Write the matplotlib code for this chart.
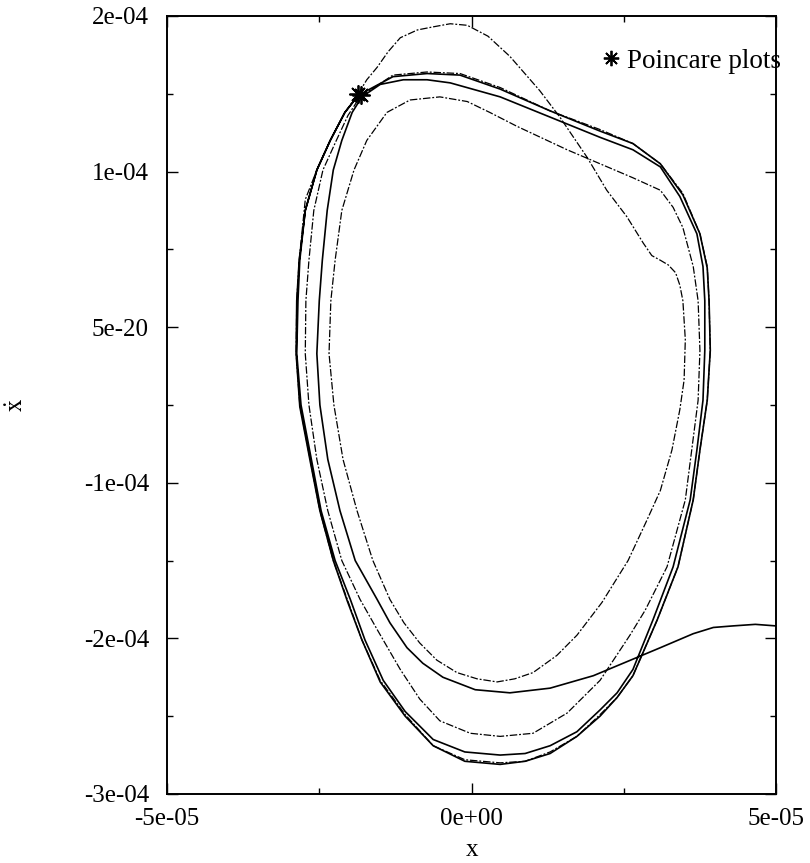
import matplotlib
matplotlib.use("Agg")
import matplotlib.pyplot as plt
import numpy as np

plt.rcParams.update({
    "font.family": "serif",
    "font.serif": ["Liberation Serif", "DejaVu Serif"],
    "mathtext.fontset": "stix",
    "font.size": 18,
})

# trajectory values: x in units of 1e-05, xdot in units of 1e-04
# solid trajectory, enters from the right edge and settles on the limit cycle
solid_x = [5.00, 4.66, 4.29, 3.97, 3.64, 3.10, 2.55, 2.00, 1.29, 0.63, 0.06, -0.47, -0.80, -1.06,
           -1.34, -1.55, -1.91, -2.16, -2.36, -2.49, -2.54, -2.50, -2.45, -2.37, -2.27, -2.13,
           -1.96, -1.80, -1.50, -1.12, -0.73, -0.35, 0.47, 1.29, 2.11, 2.65, 3.10, 3.42, 3.70,
           3.80, 3.83, 3.83, 3.80, 3.70, 3.59, 3.31, 2.98, 2.65, 2.39, 2.11, 1.73, 1.29, 0.88,
           0.47, -0.11, -0.63, -1.09, -1.45, -1.75, -1.99, -2.24, -2.47, -2.63, -2.80, -2.87,
           -2.85, -2.82, -2.73, -2.54, -2.32, -2.08, -1.86, -1.29, -0.73, -0.19, 0.47, 1.29,
           2.11, 2.65, 3.10, 3.47, 3.75, 3.87, 3.90, 3.92, 3.87, 3.75, 3.64, 3.39, 3.05, 2.65,
           2.39, 2.11, 1.73, 1.29, 0.88, 0.47, -0.11, -0.63, -1.09, -1.50, -1.80, -2.04, -2.27,
           -2.49, -2.65, -2.82, -2.88, -2.87, -2.83, -2.73, -2.54, -2.32, -2.08, -1.86]
solid_y = [-1.92, -1.91, -1.92, -1.93, -1.97, -2.06, -2.15, -2.24, -2.32, -2.35, -2.33, -2.25,
           -2.16, -2.06, -1.90, -1.75, -1.50, -1.18, -0.85, -0.50, -0.17, 0.17, 0.43, 0.75, 1.01,
           1.20, 1.38, 1.48, 1.56, 1.59, 1.59, 1.57, 1.48, 1.35, 1.22, 1.14, 1.03, 0.84, 0.60,
           0.39, 0.17, -0.15, -0.47, -0.79, -1.11, -1.54, -1.88, -2.20, -2.35, -2.46, -2.60,
           -2.69, -2.74, -2.75, -2.73, -2.65, -2.47, -2.27, -2.01, -1.75, -1.50, -1.18, -0.85,
           -0.50, -0.17, 0.17, 0.43, 0.75, 1.01, 1.20, 1.38, 1.49, 1.61, 1.63, 1.62, 1.53, 1.39,
           1.26, 1.18, 1.05, 0.85, 0.60, 0.38, 0.17, -0.15, -0.47, -0.79, -1.11, -1.54, -1.88,
           -2.24, -2.38, -2.50, -2.63, -2.74, -2.79, -2.81, -2.79, -2.69, -2.50, -2.28, -2.01,
           -1.76, -1.50, -1.18, -0.86, -0.51, -0.17, 0.17, 0.43, 0.75, 1.01, 1.20, 1.38, 1.49]

# dash-dot trajectory, starts at the Poincare point with a large overshoot
dashed_x = [-1.86, -1.72, -1.55, -1.37, -1.17, -0.89, -0.63, -0.35, -0.07, 0.27, 0.63, 1.12,
            1.45, 1.90, 2.22, 2.55, 2.82, 2.96, 3.10, 3.23, 3.35, 3.42, 3.47, 3.51, 3.49, 3.42,
            3.29, 3.10, 2.88, 2.57, 2.14, 1.73, 1.40, 1.01, 0.71, 0.42, 0.09, -0.24, -0.57,
            -0.85, -1.11, -1.34, -1.62, -1.88, -2.11, -2.26, -2.34, -2.31, -2.24, -2.13, -1.93,
            -1.72, -1.39, -1.01, -0.52, -0.07, 0.30, 0.75, 1.57, 2.11, 2.65, 3.10, 3.31, 3.47,
            3.64, 3.72, 3.75, 3.72, 3.51, 3.21, 2.85, 2.60, 2.11, 1.57, 1.01, 0.47, -0.02,
            -0.52, -0.85, -1.17, -1.54, -1.83, -2.13, -2.36, -2.54, -2.67, -2.73, -2.72, -2.67,
            -2.59, -2.44, -2.22, -2.03, -1.83, -1.29, -0.73, -0.19, 0.47, 1.29, 2.11, 2.65, 3.10,
            3.47, 3.75, 3.87, 3.90, 3.92, 3.87, 3.75, 3.64, 3.39, 3.05, 2.65, 2.39, 2.11, 1.73,
            1.29, 0.88, 0.47, -0.11, -0.63, -1.09, -1.50, -1.80, -2.04, -2.27, -2.49, -2.65,
            -2.82, -2.88, -2.87, -2.83, -2.73, -2.54, -2.32, -2.08, -1.86]
dashed_y = [1.50, 1.59, 1.67, 1.77, 1.86, 1.91, 1.93, 1.95, 1.94, 1.87, 1.74, 1.52, 1.35, 1.09,
            0.88, 0.71, 0.54, 0.46, 0.43, 0.40, 0.35, 0.27, 0.17, -0.08, -0.34, -0.53, -0.79,
            -1.05, -1.24, -1.50, -1.77, -1.98, -2.11, -2.22, -2.26, -2.28, -2.26, -2.22, -2.14,
            -2.03, -1.90, -1.75, -1.50, -1.18, -0.85, -0.50, -0.17, 0.17, 0.43, 0.75, 1.01, 1.20,
            1.38, 1.46, 1.48, 1.45, 1.38, 1.29, 1.14, 1.05, 0.96, 0.88, 0.77, 0.64, 0.39, 0.17,
            -0.15, -0.47, -1.11, -1.54, -1.82, -1.98, -2.27, -2.48, -2.61, -2.63, -2.61, -2.53,
            -2.39, -2.20, -1.95, -1.75, -1.50, -1.18, -0.85, -0.50, -0.17, 0.17, 0.43, 0.75,
            1.01, 1.20, 1.36, 1.48, 1.62, 1.64, 1.63, 1.54, 1.39, 1.27, 1.18, 1.05, 0.86, 0.60,
            0.39, 0.17, -0.15, -0.47, -0.79, -1.11, -1.54, -1.88, -2.24, -2.38, -2.49, -2.63,
            -2.73, -2.79, -2.80, -2.78, -2.69, -2.49, -2.27, -2.01, -1.75, -1.50, -1.18, -0.85,
            -0.50, -0.17, 0.17, 0.43, 0.82, 1.01, 1.20, 1.38, 1.50]

poincare_x = [-1.86, -1.81]
poincare_y = [1.50, 1.49]

y_ticks = [-3e-04, -2e-04, -1e-04, 0.0, 1e-04, 2e-04]
y_tick_labels = ["-3e-04", "-2e-04", "-1e-04", "5e-20", "1e-04", "2e-04"]
x_ticks = [-5e-05, 0.0, 5e-05]
x_tick_labels = ["-5e-05", "0e+00", "5e-05"]

fig = plt.figure(figsize=(8.1, 8.63), dpi=100)
ax = fig.add_axes([0.2062, 0.0800, 0.7519, 0.9015])

ax.plot(np.array(solid_x) * 1e-5, np.array(solid_y) * 1e-4, color="black", lw=1.2)
ax.plot(np.array(dashed_x) * 1e-5, np.array(dashed_y) * 1e-4, color="black", lw=0.9,
        linestyle=(0, (6, 1.5, 1.5, 1.5)))
ax.plot(np.array(poincare_x) * 1e-5, np.array(poincare_y) * 1e-4, linestyle="none",
        marker=(8, 2, 0), markersize=13, color="black", markeredgewidth=1.3,
        label="Poincare plots")

ax.set_xlim(-5e-05, 5e-05)
ax.set_ylim(-3e-04, 2e-04)
ax.set_xticks(x_ticks)
ax.set_xticklabels(x_tick_labels)
ax.set_yticks(y_ticks)
ax.set_yticklabels(y_tick_labels)
ax.set_xticks([-2.5e-05, 2.5e-05], minor=True)
ax.set_yticks([-2.5e-04, -1.5e-04, -0.5e-04, 0.5e-04, 1.5e-04], minor=True)
ax.tick_params(which="both", direction="in", top=True, right=True, width=1.0)
ax.tick_params(which="major", length=8)
ax.tick_params(which="minor", length=4)
ax.tick_params(axis="y", pad=13)
ax.tick_params(axis="x", pad=10)
for spine in ax.spines.values():
    spine.set_linewidth(1.4)

ax.set_xlabel("x")
ax.xaxis.set_label_coords(0.5, -0.072)
ax.xaxis.label.set_va("center")
ax.set_ylabel(r"$\dot{\mathrm{x}}$")
ax.yaxis.set_label_coords(-0.246, 0.5)
ax.yaxis.label.set_va("center")

leg = ax.legend(loc="upper right", bbox_to_anchor=(1.008, 0.958), frameon=False,
                borderpad=0, borderaxespad=0, handlelength=0.7, handletextpad=0.25,
                markerscale=0.85, fontsize=19.5)

fig.savefig("out.png", dpi=100)
